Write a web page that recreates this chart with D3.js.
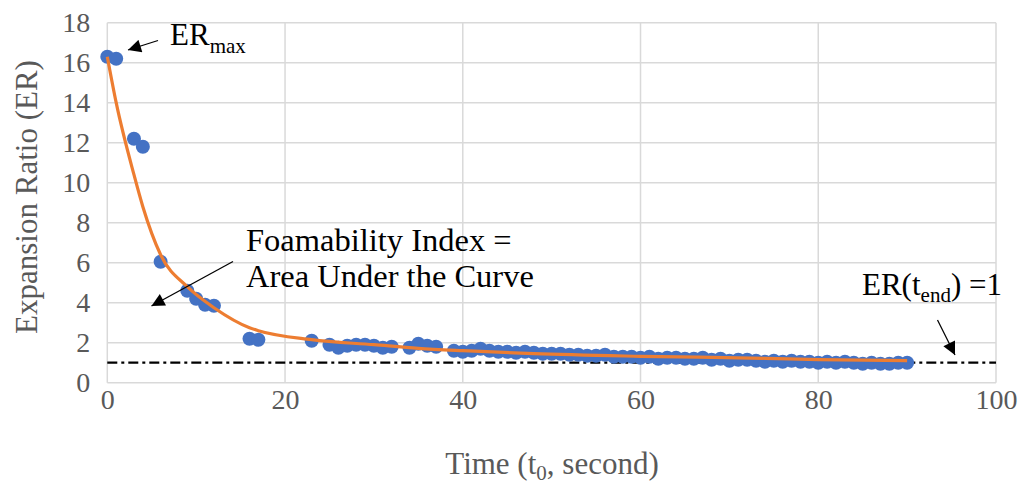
<!DOCTYPE html>
<html><head><meta charset="utf-8">
<script src="https://cdn.jsdelivr.net/npm/d3@7"></script>
<style>body{margin:0;background:#fff}svg text{font-family:"Liberation Serif","Times New Roman",serif !important}</style>
</head><body><svg id="c" width="1026" height="487"></svg>
<script>
const timeS = [0,1,3,4,6,9,10,11,12,16,17,23,25,26,27,28,29,30,31,32,34,35,36,37,39,40,41,42,43,44,45,46,47,48,49,50,51,52,53,54,55,56,57,58,59,60,61,62,63,64,65,66,67,68,69,70,71,72,73,74,75,76,77,78,79,80,81,82,83,84,85,86,87,88,89,90];
const erValues = [16.3,16.2,12.2,11.8,6.05,4.6,4.2,3.9,3.85,2.2,2.15,2.1,1.9,1.75,1.85,1.9,1.9,1.85,1.75,1.8,1.75,1.95,1.85,1.8,1.6,1.55,1.6,1.7,1.6,1.55,1.55,1.5,1.55,1.5,1.45,1.45,1.45,1.4,1.4,1.35,1.35,1.4,1.3,1.3,1.3,1.25,1.3,1.2,1.25,1.25,1.2,1.2,1.25,1.15,1.2,1.1,1.15,1.15,1.1,1.05,1.1,1.05,1.1,1.05,1.05,1.0,1.05,1.0,1.05,1.0,0.95,1.0,0.95,0.95,1.0,1.0];
const fitT = [0,1,3,4,6,9,12,16,17,23,30,35,40,48,60,74,80,90];
const fitER = [16.3,14.0,10.4,8.8,6.4,4.8,3.75,2.75,2.6,2.15,1.9,1.72,1.6,1.45,1.32,1.22,1.15,1.1];
const xTicks = [0,20,40,60,80,100];
const yTicks = [0,2,4,6,8,10,12,14,16,18];
const refER = 1;

const svg = d3.select("#c");
const x = d3.scaleLinear().domain([0,100]).range([107.3,996]);
const y = d3.scaleLinear().domain([0,18]).range([382.7,22.7]);

// grid
svg.append("g").selectAll("line").data(yTicks).join("line")
  .attr("x1",x(0)).attr("x2",x(100)).attr("y1",d=>y(d)).attr("y2",d=>y(d))
  .attr("stroke","#d9d9d9").attr("stroke-width",1.5);
svg.append("g").selectAll("line").data(xTicks).join("line")
  .attr("y1",y(0)).attr("y2",y(18)).attr("x1",d=>x(d)).attr("x2",d=>x(d))
  .attr("stroke","#d9d9d9").attr("stroke-width",1.5);

// axes labels via d3 axes
const ya = svg.append("g").attr("transform",`translate(${x(0)},0)`)
  .call(d3.axisLeft(y).tickValues(yTicks).tickSize(0).tickPadding(17));
ya.select(".domain").remove();
ya.attr("font-family","Liberation Serif");
ya.selectAll("text").attr("font-size",28).attr("fill","#595959").style("font-family","'Liberation Serif', serif");
const xa = svg.append("g").attr("transform",`translate(0,${y(0)})`)
  .call(d3.axisBottom(x).tickValues(xTicks).tickSize(0).tickPadding(6));
xa.select(".domain").remove();
xa.attr("font-family","Liberation Serif");
xa.selectAll("text").attr("font-size",28).attr("fill","#595959").style("font-family","'Liberation Serif', serif");

// reference dash-dot line
svg.append("line").attr("x1",x(0)).attr("x2",x(100)).attr("y1",y(refER)).attr("y2",y(refER))
  .attr("stroke","#000").attr("stroke-width",2.2).attr("stroke-dasharray","10,4,3,4");

// points
svg.append("g").selectAll("circle").data(timeS.map((t,i)=>[t,erValues[i]])).join("circle")
  .attr("cx",d=>x(d[0])).attr("cy",d=>y(d[1])).attr("r",7).attr("fill","#4472C4");

// fit curve
svg.append("path").datum(fitT.map((t,i)=>[t,fitER[i]]))
  .attr("d",d3.line().x(d=>x(d[0])).y(d=>y(d[1])).curve(d3.curveMonotoneX))
  .attr("fill","none").attr("stroke","#ED7D31").attr("stroke-width",3.2);

// arrows
const defs = svg.append("defs");
defs.append("marker").attr("id","ah").attr("viewBox","0 0 10 10").attr("refX",10).attr("refY",5)
  .attr("markerWidth",15).attr("markerHeight",13).attr("markerUnits","userSpaceOnUse").attr("orient","auto")
  .append("path").attr("d","M0,0L10,5L0,10Z").attr("fill","#000");
function arrow(x1,y1,x2,y2){
  svg.append("line").attr("x1",x1).attr("y1",y1).attr("x2",x2).attr("y2",y2)
    .attr("stroke","#000").attr("stroke-width",1.3).attr("marker-end","url(#ah)");
}
arrow(158,40.5,128,50);
arrow(233,261.5,151.5,306);
arrow(937.5,320,955,355);

// annotation texts
const t1 = svg.append("text").attr("x",170).attr("y",45).attr("font-size",31).attr("fill","#000");
t1.append("tspan").text("ER");
t1.append("tspan").attr("font-size",21).attr("dy",8).text("max");
svg.append("text").attr("x",246).attr("y",251).attr("font-size",32.5).text("Foamability Index =");
svg.append("text").attr("x",246).attr("y",287).attr("font-size",32.5).text("Area Under the Curve");
const t3 = svg.append("text").attr("x",862).attr("y",295).attr("font-size",31);
t3.append("tspan").text("ER(t");
t3.append("tspan").attr("font-size",21).attr("dy",7).text("end");
t3.append("tspan").attr("dy",-7).text(") =1");

// axis titles
const xt = svg.append("text").attr("x",552).attr("y",474).attr("text-anchor","middle").attr("font-size",31).attr("fill","#595959");
xt.append("tspan").text("Time (t");
xt.append("tspan").attr("font-size",21).attr("dy",6).text("0");
xt.append("tspan").attr("dy",-6).text(", second)");
svg.append("text").attr("transform","translate(37,197) rotate(-90)").attr("text-anchor","middle")
  .attr("font-size",31).attr("fill","#595959").text("Expansion Ratio (ER)");
</script></body></html>
